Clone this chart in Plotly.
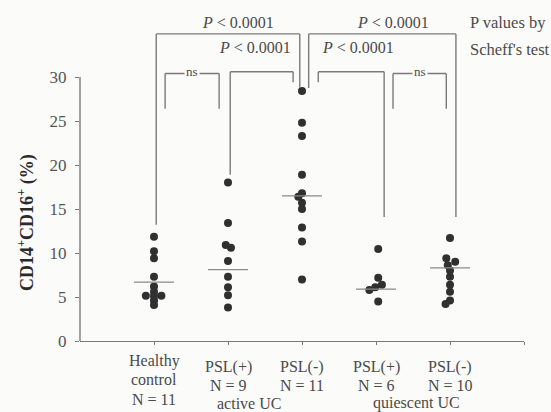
import plotly.graph_objects as go

# ---------------- data ----------------
groups = ["Healthy control", "active PSL(+)", "active PSL(-)", "quiescent PSL(+)", "quiescent PSL(-)"]
healthy = [11.85, 10.2, 9.4, 7.3, 6.2, 5.6, 5.15, 5.15, 5.1, 4.6, 4.1]
active_psl_pos = [18.0, 13.4, 10.9, 10.6, 9.1, 7.3, 6.1, 5.2, 3.8]
active_psl_neg = [28.4, 24.8, 23.3, 18.9, 16.8, 16.4, 15.7, 15.0, 12.9, 11.3, 7.0]
quiescent_psl_pos = [10.45, 7.2, 6.4, 6.1, 5.8, 4.5]
quiescent_psl_neg = [11.7, 9.4, 9.0, 8.6, 8.0, 7.3, 6.4, 5.6, 4.6, 4.2]
group_means = [6.7, 8.1, 16.5, 5.9, 8.3]
y_ticks = [0, 5, 10, 15, 20, 25, 30]
label_line1 = ["Healthy", "PSL(+)", "PSL(-)", "PSL(+)", "PSL(-)"]
label_line2 = ["control", "N = 9", "N = 11", "N = 6", "N = 10"]
group_names = ["active UC", "quiescent UC"]

# small horizontal jitter to separate overlapping dots (category units)
jitter = [
    [0, 0, 0, 0, 0, 0, -0.11, 0.10, 0, 0, 0],
    [0, 0, -0.03, 0.04, 0, 0, 0, 0, 0],
    [0, 0, 0, 0, 0, -0.05, 0, 0, 0, 0, 0],
    [0.03, 0.03, 0.08, -0.01, -0.09, 0.03],
    [0, -0.05, 0.07, -0.03, 0, 0, 0, 0, 0, -0.06],
]
series = [healthy, active_psl_pos, active_psl_neg, quiescent_psl_pos, quiescent_psl_neg]

# ---------------- layout constants ----------------
W, H = 551, 412
ML, MR, MT, MB = 80, 27, 0, 71
XMAX = 6.0
YMAX = 38.75
GREY = "#7a7a7a"
TXT = "#4a4a4a"
BG = "#fbfbf9"
SERIF = "Liberation Serif, Times New Roman, serif"

def px(x):
    return x / XMAX

def py(y):
    return y / YMAX

fig = go.Figure()

# points
for i, vals in enumerate(series):
    fig.add_trace(go.Scatter(
        x=[i + 1 + j for j in jitter[i]], y=vals, mode="markers",
        marker=dict(size=8, color="#303030"), showlegend=False, hoverinfo="y"))

# mean lines
mx, my = [], []
for i, m in enumerate(group_means):
    mx += [i + 1 - 0.27, i + 1 + 0.27, None]
    my += [m, m, None]
fig.add_trace(go.Scatter(x=mx, y=my, mode="lines", line=dict(color="#8a8a8a", width=1.3),
                         showlegend=False, hoverinfo="skip"))

shapes = []
def seg(x0, y0, x1, y1):
    shapes.append(dict(type="line", xref="paper", yref="paper",
                       x0=px(x0), y0=py(y0), x1=px(x1), y1=py(y1),
                       line=dict(color=GREY, width=1.4)))

def bracket(xl, xr, top, dl, dr):
    seg(xl, dl, xl, top)
    seg(xl, top, xr, top)
    seg(xr, top, xr, dr)

# y-axis line
seg(0, 0, 0, 30)

# brackets (x in category units, y in data units)
bracket(1.03, 2.97, 34.9, 13.2, 28.75)   # healthy vs active PSL(-)
bracket(3.09, 5.08, 34.9, 28.75, 14.1)   # active PSL(-) vs quiescent PSL(-)
bracket(2.03, 2.88, 30.6, 18.9, 29.4)    # active PSL(+) vs active PSL(-)
bracket(3.22, 4.11, 30.6, 29.4, 14.1)    # active PSL(-) vs quiescent PSL(+)
bracket(1.15, 1.88, 30.4, 26.4, 26.4)    # ns
bracket(4.23, 4.95, 30.4, 26.4, 26.4)    # ns

ann = []
def text(x, y, s, size=15, xanchor="center", bg=None, color=TXT):
    d = dict(x=px(x), y=py(y), xref="paper", yref="paper", text=s, showarrow=False,
             xanchor=xanchor, yanchor="middle", font=dict(family=SERIF, size=size, color=color))
    if bg:
        d["bgcolor"] = bg
        d["borderpad"] = 1
    ann.append(d)

ptxt = "<i>P</i> < 0.0001"
text(2.13, 36.15, ptxt, size=16)
text(4.23, 36.15, ptxt, size=16)
text(2.37, 33.4, ptxt, size=16)
text(3.76, 33.4, ptxt, size=16)
text(1.52, 30.6, "ns", size=13, bg=BG)
text(4.6, 30.6, "ns", size=13, bg=BG)
text(5.24, 36.15, "P values by", size=16.5, xanchor="left")
text(5.24, 33.1, "Scheff's test", size=16.5, xanchor="left")

# x category labels
ylab = lambda pix: -(pix - (H - MB)) / ((H - MB) / YMAX)
text(1, ylab(361), label_line1[0], size=16)
text(1, ylab(380), label_line2[0], size=16)
text(1, ylab(399), "N = 11", size=16)
for i in range(1, 5):
    text(i + 1, ylab(367), label_line1[i], size=16)
    text(i + 1, ylab(386), label_line2[i], size=16)
text(2.28, ylab(403), group_names[0], size=16)
text(4.55, ylab(403), group_names[1], size=16)

# y title
ann.append(dict(x=-0.153, y=0.346, xref="paper", yref="paper", showarrow=False,
                text="<b>CD14<sup>+</sup>CD16<sup>+</sup> (%)</b>", textangle=-90,
                font=dict(family=SERIF, size=18, color="#2a2a2a")))

fig.update_layout(
    width=W, height=H, margin=dict(l=ML, r=MR, t=MT, b=MB),
    paper_bgcolor=BG, plot_bgcolor=BG,
    shapes=shapes, annotations=ann, showlegend=False,
    xaxis=dict(range=[0, XMAX], showgrid=False, zeroline=False, showline=True,
               linecolor=GREY, linewidth=1.4, ticks="outside", ticklen=3,
               tickcolor=GREY, tickvals=[1, 2, 3, 4, 5, 6], showticklabels=False),
    yaxis=dict(range=[0, YMAX], showgrid=False, zeroline=False, showline=False,
               ticks="outside", ticklen=4, tickcolor=GREY, tickvals=y_ticks,
               ticklabelstandoff=5,
               tickfont=dict(family=SERIF, size=17, color="#555555")),
)

fig.write_html("out.html")
